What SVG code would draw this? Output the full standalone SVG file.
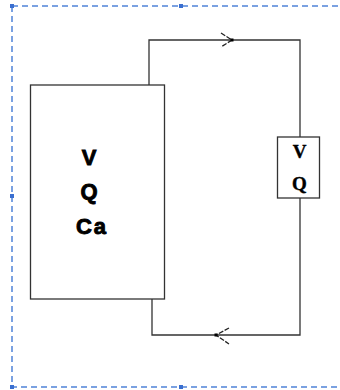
<svg xmlns="http://www.w3.org/2000/svg" width="340" height="390" viewBox="0 0 340 390">
<style>
.sel{fill:none;stroke:#4f82d8;stroke-width:1.5;stroke-dasharray:6 4}
.h{fill:#3a6fd0}
.box{fill:#fff;stroke:#333;stroke-width:1.3}
.wire{fill:none;stroke:#333;stroke-width:1.3}
.arr{fill:none;stroke:#222;stroke-width:1.3;stroke-dasharray:5 1.5}
.big{font-family:"Liberation Sans",Arial,sans-serif;font-weight:bold;font-size:22px;fill:#000;stroke:#000;stroke-width:0.9;text-anchor:middle}
.small{font-family:"Liberation Serif","Times New Roman",serif;font-weight:bold;font-size:19px;fill:#000;stroke:#000;stroke-width:0.4;text-anchor:middle}
</style>
<rect width="340" height="390" fill="#fff"/>
<g id="selection">
<path class="sel" d="M12,6 H350 M12,6 V387 H350"/>
<rect class="h" x="10" y="4" width="4" height="4"/>
<rect class="h" x="179" y="4" width="4" height="4"/>
<rect class="h" x="10" y="194" width="4" height="4"/>
<rect class="h" x="10" y="385" width="4" height="4"/>
<rect class="h" x="179" y="385" width="4" height="4"/>
</g>
<g id="connectors">
<path class="wire" d="M149,85 V40 H300 V137"/>
<path class="wire" d="M300,198 V335 H152 V299"/>
<path class="arr" d="M221,33 L232,40 L221,47"/>
<rect x="230.5" y="38.5" width="3" height="3" fill="#000"/>
<path class="arr" d="M229,328 L216,335 L229,344"/>
<rect x="214.5" y="333.5" width="3" height="3" fill="#000"/>
</g>
<g id="main">
<rect class="box" x="30.5" y="85" width="134" height="214"/>
<text class="big" x="89" y="165">V</text>
<text class="big" x="89" y="199">Q</text>
<text class="big" x="92" y="234" letter-spacing="2">Ca</text>
</g>
<g id="meter">
<rect class="box" x="277.5" y="137" width="42" height="61"/>
<text class="small" x="299.5" y="158">V</text>
<text class="small" x="299.5" y="190">Q</text>
</g>
</svg>
